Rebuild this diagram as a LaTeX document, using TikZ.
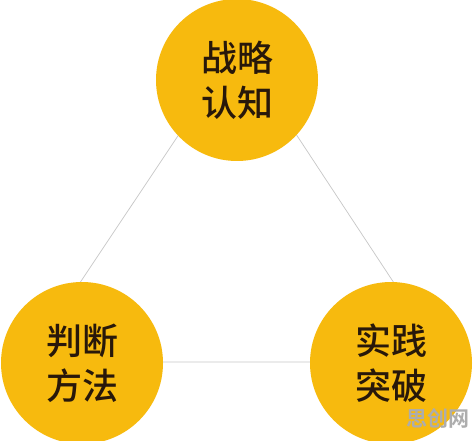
\documentclass[tikz,border=0pt]{standalone}
\usepackage{fontspec}
\usepackage{tikz}
\usetikzlibrary{positioning}
\newfontfamily\cjk{Noto Sans CJK SC}[UprightFont=* Medium,BoldFont=* Bold]
\definecolor{gold}{RGB}{247,186,14}
\definecolor{ink}{RGB}{40,24,10}
\tikzstyle{topic}=[circle,fill=gold,minimum size=162pt,inner sep=0pt,align=center,text=ink,
  font={\cjk\fontsize{36}{45}\selectfont}]
\tikzstyle{edge}=[draw=black!22,line width=0.7pt]

\begin{document}
\begin{tikzpicture}[x=1pt,y=-1pt]
\clip (0,0) rectangle (474,441);
\fill[white] (0,0) rectangle (474,441);
% triangle behind the circles
\coordinate (apex) at (238,46);
\coordinate (left) at (27,362);
\coordinate (right) at (446,362);
\draw [edge] (apex) -- (left) -- (right) -- cycle;
% the three circles
\node [topic] (strategy) at (237,80) {战略\\认知};
\node [topic] (judge) at (82,363) {判断\\方法};
\node [topic] (practice) at (391,363) {实践\\突破};
% watermark
\node [text=black!32,font={\cjk\bfseries\fontsize{21}{21}\selectfont},inner sep=0pt] (mark) at (438,418) {思创网};
\end{tikzpicture}
\end{document}
